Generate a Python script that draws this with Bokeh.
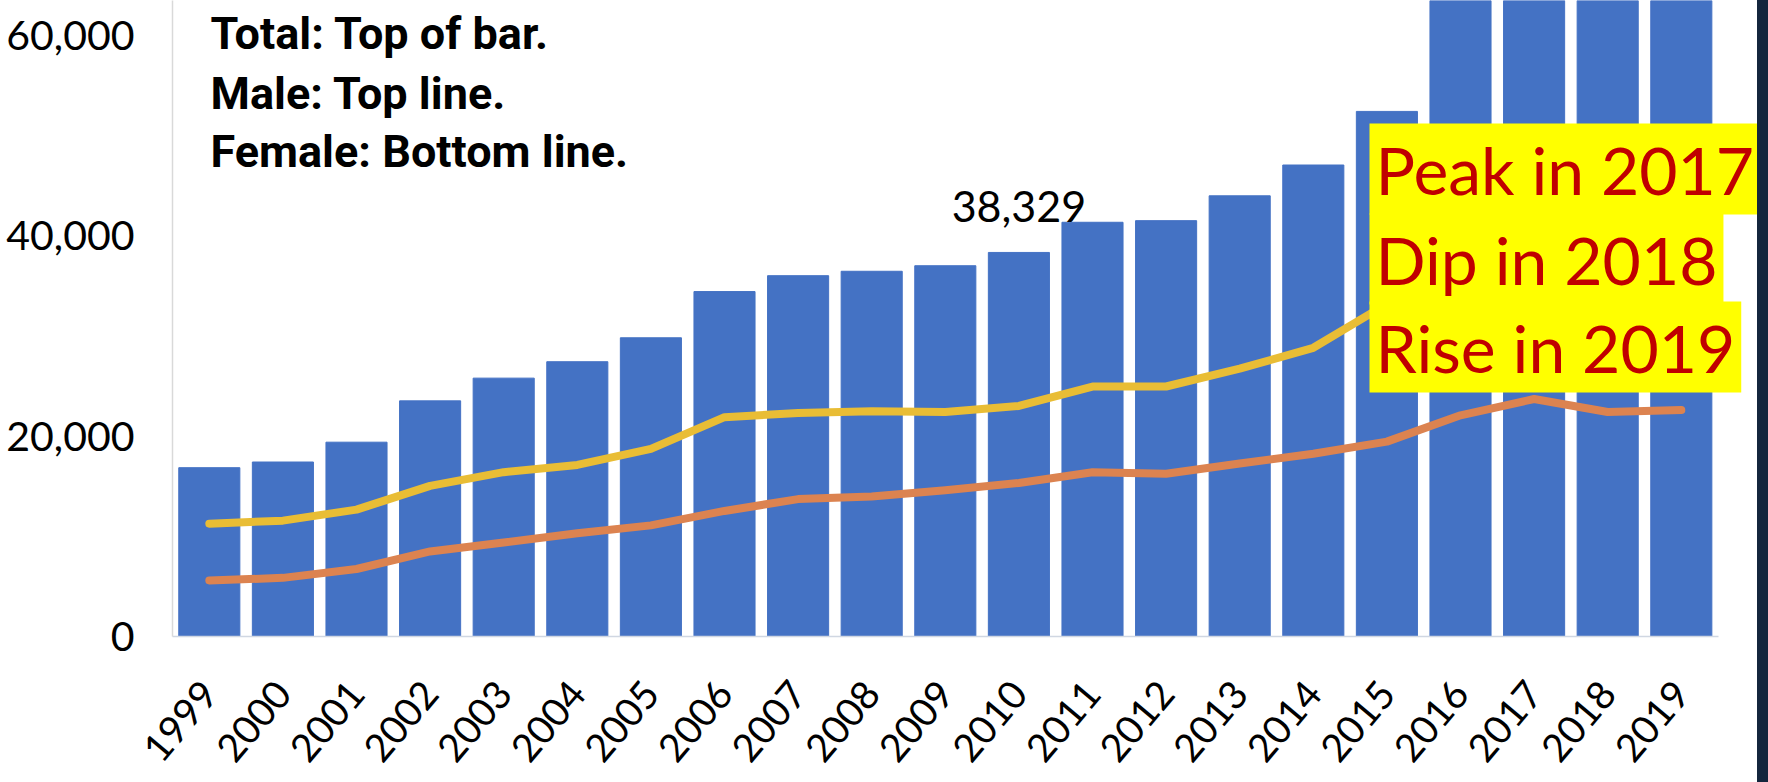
import math
from bokeh.plotting import figure
from bokeh.models import Range1d, FixedTicker, NumeralTickFormatter, Label, Div
from bokeh.layouts import row
from bokeh.embed import file_html
from bokeh.resources import INLINE

# ---------------- data ----------------
years = [str(y) for y in range(1999, 2020)]
total = [16849, 17415, 19394, 23518, 25785, 27424, 29813, 34425, 36010, 36450, 37004,
         38329, 41340, 41502, 43982, 47055, 52404, 63632, 70237, 67367, 70630]
male = [11258, 11563, 12658, 15028, 16399, 17120, 18724, 21893, 22298, 22468, 22400,
        23006, 24943, 24950, 26725, 28812, 33200, 41558, 47600, 46802, 49061]
female = [5591, 5852, 6736, 8490, 9386, 10304, 11089, 12532, 13712, 13982, 14604,
          15323, 16397, 16250, 17257, 18243, 19447, 22074, 23700, 22400, 22600]
y_ticks = [0, 20000, 40000, 60000]
notes = ["Total: Top of bar.", "Male: Top line.", "Female: Bottom line."]
callout = ["Peak in 2017", "Dip in 2018", "Rise in 2019"]
highlight_year = "2010"

# ---------------- layout helpers ----------------
FIG_W, FIG_H = 1757, 782
LEFT, TOP, BOTTOM = 172, 0, 146
SLOT_PX = 73.6
frame_w = FIG_W - LEFT
frame_h = FIG_H - TOP - BOTTOM
Y_MAX = 63473
X_MAX = frame_w / SLOT_PX

xs = [i + 0.5 for i in range(len(years))]


def dx(px):
    return (px - LEFT) / SLOT_PX


def dy(py):
    return (TOP + frame_h - py) / frame_h * Y_MAX


SANS = "Lato"

p = figure(width=FIG_W, height=FIG_H, x_range=Range1d(0, X_MAX),
           y_range=Range1d(0, Y_MAX), output_backend="svg", toolbar_location=None,
           min_border_left=LEFT, min_border_right=0, min_border_top=TOP,
           min_border_bottom=BOTTOM)
p.outline_line_color = None
p.xgrid.visible = False
p.ygrid.visible = False
p.background_fill_color = "white"
p.border_fill_color = "white"

p.vbar(x=xs, top=total, width=0.83, color="#4472C4")
p.line(x=xs, y=male, color="#E9BD35", line_width=8, line_cap="round", line_join="round")
p.line(x=xs, y=female, color="#DC8350", line_width=8, line_cap="round", line_join="round")

# axes
p.yaxis.ticker = FixedTicker(ticks=y_ticks)
p.yaxis.formatter = NumeralTickFormatter(format="0,0")
p.yaxis.axis_line_color = "#D9D9D9"
p.yaxis.axis_line_width = 1.5
p.yaxis.major_tick_line_color = None
p.yaxis.minor_tick_line_color = None
p.yaxis.major_tick_out = 0
p.yaxis.major_tick_in = 0
p.yaxis.minor_tick_out = 0
p.yaxis.major_label_standoff = 38
p.yaxis.major_label_text_font = SANS
p.yaxis.major_label_text_font_size = "41px"
p.yaxis.major_label_text_color = "black"

p.xaxis.ticker = FixedTicker(ticks=xs)
p.xaxis.major_label_overrides = {x: y for x, y in zip(xs, years)}
p.xaxis.bounds = (0, len(years))
p.xaxis.axis_line_color = "#D0D7E2"
p.xaxis.axis_line_width = 1.5
p.xaxis.major_tick_line_color = None
p.xaxis.minor_tick_line_color = None
p.xaxis.major_tick_out = 0
p.xaxis.major_tick_in = 0
p.xaxis.minor_tick_out = 0
p.xaxis.major_label_orientation = 0.87
p.xaxis.major_label_standoff = 50
p.xaxis.major_label_text_font = SANS
p.xaxis.major_label_text_font_size = "39px"
p.xaxis.major_label_text_color = "black"

# value label on 2010
i10 = years.index(highlight_year)
fs = 43
p.add_layout(Label(x=xs[i10], y=total[i10], y_offset=30 + 0.37 * fs,
                   text=f"{total[i10]:,}", text_align="center", text_baseline="middle",
                   text_font=SANS, text_font_size=f"{fs}px", text_color="black"))

# top-left notes
fs = 45
for txt, base in zip(notes, [50, 110, 168]):
    p.add_layout(Label(x=dx(210), y=dy(base - 0.37 * fs), text=txt, text_align="left",
                       text_baseline="middle", text_font="Roboto",
                       text_font_style="bold", text_font_size=f"{fs}px",
                       text_color="black"))

# yellow callout
fs = 66
for txt, base in zip(callout, [193, 283, 371]):
    p.add_layout(Label(x=dx(1369), y=dy(base - 0.37 * fs), text=txt, text_align="left",
                       text_baseline="middle", text_font=SANS,
                       text_font_size=f"{fs}px", text_color="#C00000",
                       background_fill_color="#FFFF00", padding=6))

strip = Div(width=11, height=FIG_H, margin=0,
            styles={"background-color": "#14263D"})

layout = row(p, strip, spacing=0)
open("out.html", "w").write(file_html(layout, INLINE))
